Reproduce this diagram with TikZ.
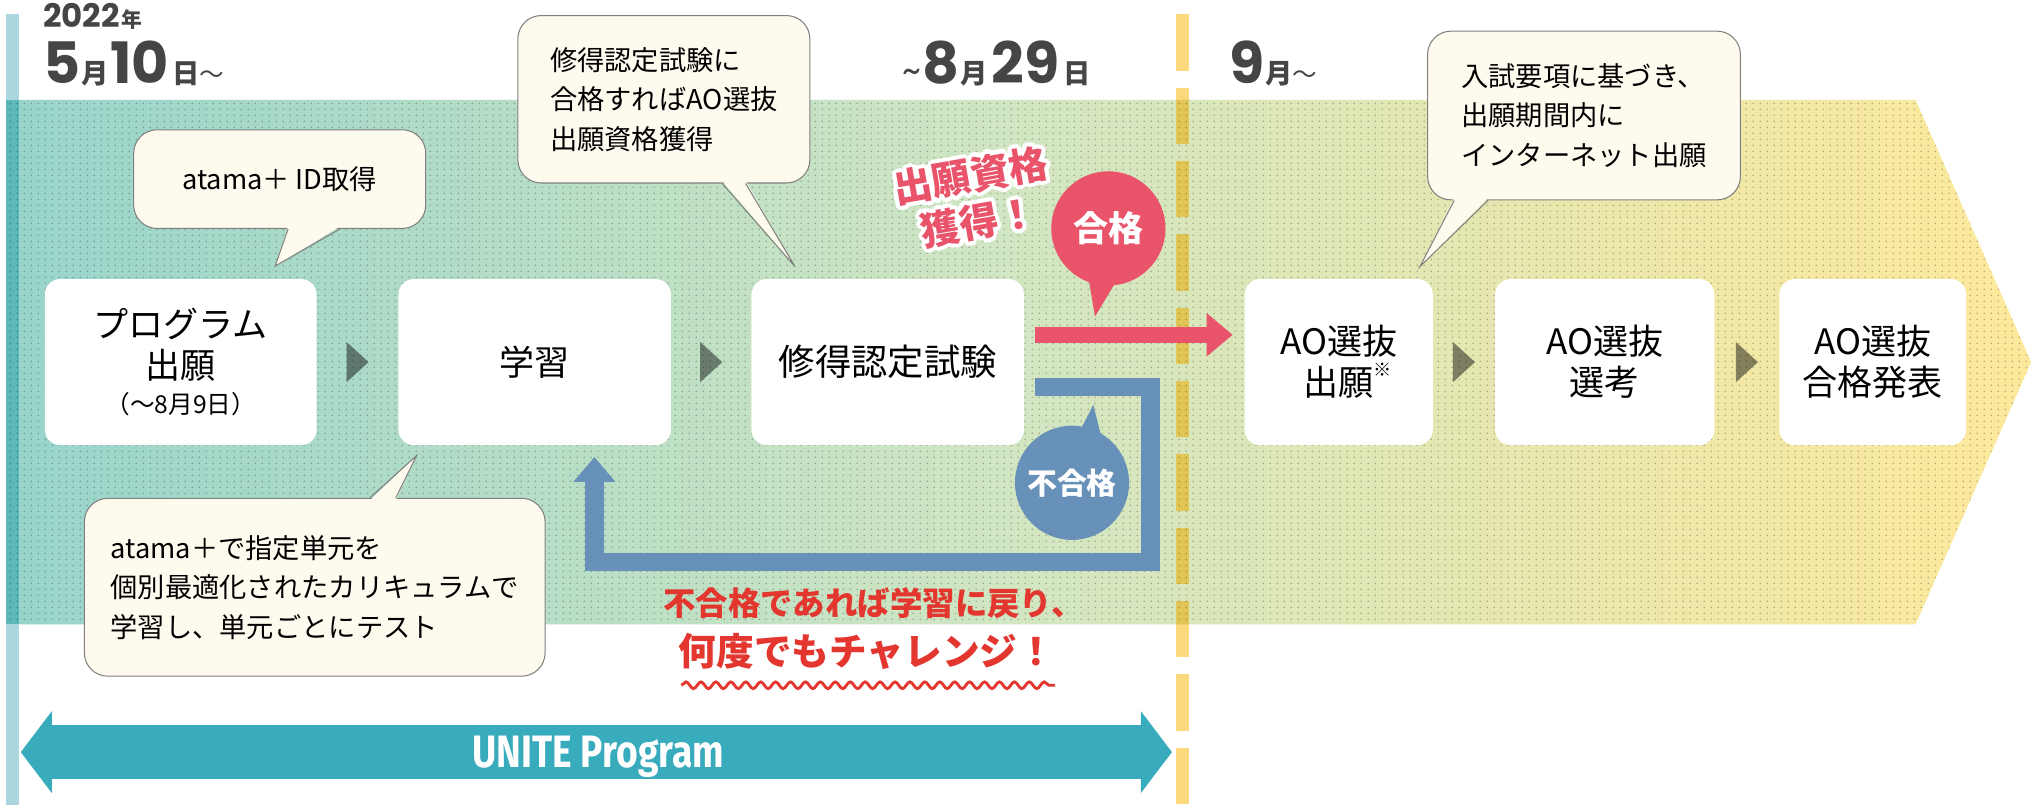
\documentclass[tikz,border=0pt]{standalone}
\usepackage{fontspec}
\setmainfont{Noto Sans CJK JP}
\newfontfamily\popfont{Poppins}
\newfontfamily\firafont{Fira Sans}[FakeStretch=0.82]
\usetikzlibrary{arrows.meta,decorations.pathmorphing,patterns,calc}

\definecolor{hdr}{HTML}{454545}
\definecolor{bandL}{HTML}{98D4CB}
\definecolor{bandM}{HTML}{D2E6C2}
\definecolor{bandR}{HTML}{FDE99B}
\definecolor{barblue}{HTML}{ACD6E0}
\definecolor{bardark}{HTML}{5CB7B7}
\definecolor{dashy}{HTML}{FCD97C}
\definecolor{dashdark}{HTML}{E2C655}
\definecolor{cream}{HTML}{FEFAEE}
\definecolor{calloutline}{HTML}{808080}
\definecolor{pinkred}{HTML}{E9546B}
\definecolor{loopblue}{HTML}{6791B9}
\definecolor{txtred}{HTML}{E3362F}
\definecolor{uteal}{HTML}{38ABBD}

\pgfdeclarepatternformonly{bgdots}{\pgfqpoint{0pt}{0pt}}{\pgfqpoint{5.2pt}{4.7pt}}{\pgfqpoint{5.2pt}{4.7pt}}{%
  \pgfpathcircle{\pgfqpoint{2.6pt}{2.35pt}}{0.72pt}\pgfusepath{fill}}

\newcommand\bignum[1]{{\popfont\bfseries\fontsize{44}{44}\selectfont #1}}
\newcommand\midkj[1]{{\bfseries\fontsize{21}{21}\selectfont #1}}

\tikzset{
  stepbox/.style={fill=white, rounded corners=12pt, minimum height=128pt, inner sep=0pt,
    align=center, font=\fontsize{27}{31.5}\selectfont},
  callout/.style={draw=calloutline, line width=0.8pt, fill=cream, rounded corners=18pt,
    inner sep=0pt, align=left, font=\fontsize{21}{30.5}\selectfont},
  tailline/.style={draw=calloutline, line width=0.8pt, line join=miter},
  gtri/.style={fill=black, fill opacity=0.45},
  hdrtext/.style={anchor=base west, inner sep=0pt, text=hdr},
  bubble/.style={circle, minimum size=88pt, inner sep=0pt, text=white},
  gettext/.style={rotate=10, align=center, inner sep=0pt, font=\bfseries\fontsize{30}{36}\selectfont},
}

\begin{document}
\begin{tikzpicture}[x=1pt,y=-1pt]
\useasboundingbox (0,0) rectangle (1568,620);
\fill[white] (0,0) rectangle (1568,620);

% band
\shade[left color=bandL, right color=bandR, middle color=bandM]
  (5,77) -- (1476,77) -- (1565,279) -- (1476,481) -- (5,481) -- cycle;
\fill[barblue] (5,11) rectangle (15,620);
\fill[bardark] (5,77) rectangle (15,481);
\draw[dashy, line width=10pt, dash pattern=on 43.5pt off 13pt] (911,11) -- (911,620);
\begin{scope}
  \clip (5,77) -- (1476,77) -- (1565,279) -- (1476,481) -- (5,481) -- cycle;
  \draw[dashdark, line width=10pt, dash pattern=on 43.5pt off 13pt] (911,11) -- (911,620);
\end{scope}
\fill[pattern=bgdots, pattern color=black, fill opacity=0.28]
  (5,77) -- (1476,77) -- (1565,279) -- (1476,481) -- (5,481) -- cycle;

% header
\node[hdrtext] (yr) at (33,21) {{\popfont\bfseries\fontsize{25}{25}\selectfont 2022}\kern1pt{\bfseries\fontsize{16}{16}\selectfont 年}};
\node[hdrtext] (d1) at (33,64) {\bignum{5}\kern1pt\midkj{月}\kern1pt\bignum{10}\kern3pt\midkj{日}{\fontsize{19}{19}\selectfont 〜}};
\node[hdrtext] (d2) at (695,64) {{\popfont\fontsize{28}{28}\selectfont\textasciitilde}\kern1pt\bignum{8}\kern1pt\midkj{月}\kern3pt\bignum{29}\kern3pt\midkj{日}};
\node[hdrtext] (d3) at (947,64) {\bignum{9}\kern1pt\midkj{月}{\fontsize{19}{19}\selectfont 〜}};

% step boxes
\node[stepbox, minimum width=209.5pt] (b1) at (139.25,279) {プログラム\\出願\\[-5pt]{\fontsize{19}{22}\selectfont （〜8月9日）}};
\node[stepbox, minimum width=210pt] (b2) at (412,279) {学習};
\node[stepbox, minimum width=210pt, font=\fontsize{28}{31.5}\selectfont] (b3) at (684,279) {修得認定試験};
\node[stepbox, minimum width=145pt] (b4) at (1031.5,279) {AO選抜\\出願\rlap{\raisebox{0.55em}{\fontsize{14}{14}\selectfont ※}}};
\node[stepbox, minimum width=169pt] (b5) at (1236.5,279) {AO選抜\\選考};
\node[stepbox, minimum width=144pt] (b6) at (1443,279) {AO選抜\\合格発表};

% small triangles
\foreach \l/\r/\k in {b1/b2/1, b2/b3/2, b4/b5/3, b5/b6/4}{
  \coordinate (t\k) at ($(\l.east)!0.5!(\r.west)$);
  \fill[gtri] ($(t\k)+(-8.5,-15.5)$) -- ($(t\k)+(8.5,0)$) -- ($(t\k)+(-8.5,15.5)$) -- cycle;
}

% pass arrow
\coordinate (ra0) at ($(b3.east)+(8,-21)$);
\coordinate (ra1) at ($(b4.west)+(-9,-21)$);
\draw[pinkred, line width=12.5pt, -{Triangle[length=20pt,width=32pt]}] (ra0) -- (ra1);

% fail loop
\coordinate (lb0) at ($(b3.east)+(8,19.5)$);
\coordinate (lb2) at (886.5,433);
\coordinate (lb4) at ($(b2.south)+(46,9)$);
\draw[loopblue, line width=14pt, line join=miter, -{Triangle[length=19pt,width=31pt]}] (lb0) -| (lb2) -| (lb4);

% bubbles
\node[bubble, fill=pinkred, font=\bfseries\fontsize{27}{27}\selectfont] (pass) at (854,176) {合格};
\coordinate (passtip) at (843.7,244);
\fill[pinkred] ($(pass.center)+(-16,34)$) -- (passtip) -- ($(pass.center)+(10,34)$) -- cycle;
\node[bubble, fill=loopblue, font=\bfseries\fontsize{23}{23}\selectfont] (fail) at (826,372) {不合格};
\coordinate (failtip) at (842.4,312);
\fill[loopblue] ($(fail.center)+(2,-32)$) -- (failtip) -- ($(fail.center)+(24,-30)$) -- cycle;

% qualification text with white outline
\foreach \a [count=\k] in {0,30,...,330}{
  \node[gettext, text=white] (glow\k) at ($(751,153)+(\a:3.2)$) {出願資格\\獲得！};
}
\node[gettext, text=pinkred] (getq) at (751,153) {出願資格\\獲得！};

% callouts
\node[callout, minimum width=225pt, minimum height=76pt] (c1) at (215.5,138) {atama＋ ID取得};
\coordinate (c1tip) at (212,205);
\fill[cream] ($(c1.south)+(6.5,-2)$) -- (c1tip) -- ($(c1.south)+(46.5,-2)$) -- cycle;
\draw[tailline] ($(c1.south)+(6.5,0)$) -- (c1tip) -- ($(c1.south)+(46.5,0)$);

\node[callout, minimum width=225pt, minimum height=129pt] (c2) at (511.5,76.5) {修得認定試験に\\合格すればAO選抜\\出願資格獲得};
\coordinate (c2tip) at (612.6,205.5);
\fill[cream] ($(c2.south)+(45,-2)$) -- (c2tip) -- ($(c2.south)+(63,-2)$) -- cycle;
\draw[tailline] ($(c2.south)+(45,0)$) -- (c2tip) -- ($(c2.south)+(63,0)$);

\node[callout, minimum width=241pt, minimum height=130pt] (c3) at (1220.5,89) {入試要項に基づき、\\出願期間内に\\インターネット出願};
\coordinate (c3tip) at (1094,205.5);
\fill[cream] ($(c3.south)+(-100,-2)$) -- (c3tip) -- ($(c3.south)+(-74,-2)$) -- cycle;
\draw[tailline] ($(c3.south)+(-100,0)$) -- (c3tip) -- ($(c3.south)+(-74,0)$);

\node[callout, minimum width=355pt, minimum height=137pt] (c4) at (242.5,452.5) {atama＋で指定単元を\\個別最適化されたカリキュラムで\\学習し、単元ごとにテスト};
\coordinate (c4tip) at (321,351);
\fill[cream] ($(c4.north)+(42.5,2)$) -- (c4tip) -- ($(c4.north)+(62.5,2)$) -- cycle;
\draw[tailline] ($(c4.north)+(42.5,0)$) -- (c4tip) -- ($(c4.north)+(62.5,0)$);

% retry text
\node[text=txtred, inner sep=0pt, font=\bfseries\fontsize{25}{25}\selectfont] (rt1) at (673,465) {不合格であれば学習に戻り、};
\node[text=txtred, inner sep=0pt, font=\bfseries\fontsize{29}{29}\selectfont] (rt2) at (668,502) {何度でもチャレンジ！};
\coordinate (wv0) at (525,528);
\coordinate (wv1) at (813,528);
\draw[txtred, line width=2.2pt, decorate, decoration={snake, segment length=11.5pt, amplitude=2.6pt}] (wv0) -- (wv1);

% UNITE Program arrow
\coordinate (ul) at (16,579.5);
\coordinate (ur) at (903,579.5);
\draw[uteal, line width=41pt, {Triangle[length=24pt,width=62pt]}-{Triangle[length=24pt,width=62pt]}] (ul) -- (ur);
\node[anchor=base, inner sep=0pt, text=white, font=\firafont\bfseries\fontsize{35}{35}\selectfont] (up) at (461,591) {UNITE Program};
\end{tikzpicture}
\end{document}
